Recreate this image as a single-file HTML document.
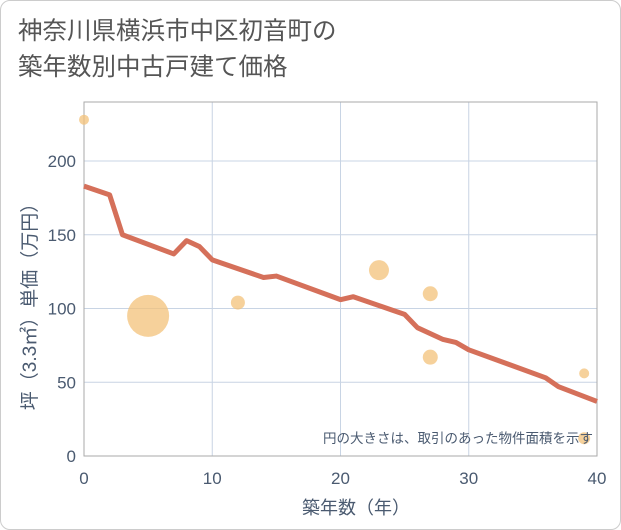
<!DOCTYPE html>
<html><head><meta charset="utf-8"><style>
body{margin:0;background:#fff;font-family:"Liberation Sans","Noto Sans CJK JP",sans-serif}
#frame{position:absolute;left:0;top:0;width:619px;height:528px;border:1px solid #ccc;border-radius:10px;background:#fff}
#title{position:absolute;left:18px;top:14px;font-size:24.5px;line-height:36px;color:#555}
</style></head><body>
<div id="frame"></div>
<div id="title">神奈川県横浜市中区初音町の<br>築年数別中古戸建て価格</div>
<svg id="chart" width="621" height="530" style="position:absolute;left:0;top:0"></svg>
<script>
const lineYears=[0,2,3,7,8,9,10,14,15,20,21,24,25,26,28,29,30,36,37,40];
const lineValues=[183,177,150,137,146,142,133,121,122,106,108,99,96,87,79,77,72,53,47,37];
const bubbleYears=[0,5,12,23,27,27,39,39];
const bubbleValues=[228,95,104,126,110,67,56,12];
const bubbleRadii=[5,21,7,10,7.5,7.5,5,6];
const xTicks=[0,10,20,30,40];
const yTicks=[0,50,100,150,200];
const L=84,R=597,T=102,B=456;
const xs=v=>L+(R-L)*v/40;
const ys=v=>B-(B-161)*v/200;
const svg=document.getElementById('chart');
const NS='http://www.w3.org/2000/svg';
function mk(t,a){const e=document.createElementNS(NS,t);for(const k in a)e.setAttribute(k,a[k]);svg.appendChild(e);return e;}
xTicks.forEach(v=>{if(v>0&&v<40){const l=mk('line',{x1:xs(v),x2:xs(v),y1:T,y2:B,stroke:'#c8d4e4'});

}
const t=mk('text',{x:xs(v),y:484,'text-anchor':'middle','font-size':17,fill:'#4a5a70'});t.textContent=v;

});
yTicks.forEach(v=>{if(v>0){const l=mk('line',{x1:L,x2:R,y1:ys(v),y2:ys(v),stroke:'#c8d4e4'});

}
const t=mk('text',{x:76,y:ys(v)+6,'text-anchor':'end','font-size':17,fill:'#4a5a70'});t.textContent=v;

});
const fr=mk('rect',{x:L,y:T,width:R-L,height:B-T,fill:'none',stroke:'#aaa'});


bubbleYears.forEach((y,i)=>{const c=mk('circle',{cx:xs(y),cy:ys(bubbleValues[i]),r:bubbleRadii[i],fill:'#f3c27a','fill-opacity':0.75});

});
const p=mk('polyline',{points:lineYears.map((y,i)=>xs(y)+','+ys(lineValues[i])).join(' '),fill:'none',stroke:'#d5705a','stroke-width':5,'stroke-linejoin':'round'});


const n=mk('text',{x:593,y:443,'text-anchor':'end','font-size':13.5,fill:'#4a5a70'});n.textContent='円の大きさは、取引のあった物件面積を示す';


const xt=mk('text',{x:356,y:514,'text-anchor':'middle','font-size':18,fill:'#4a5a70'});xt.textContent='築年数（年）';


const yt=mk('text',{x:0,y:0,'text-anchor':'middle','font-size':19,fill:'#4a5a70',transform:'translate(36,302) rotate(-90)'});yt.textContent='坪（3.3㎡）単価（万円）';


</script>
</body></html>
